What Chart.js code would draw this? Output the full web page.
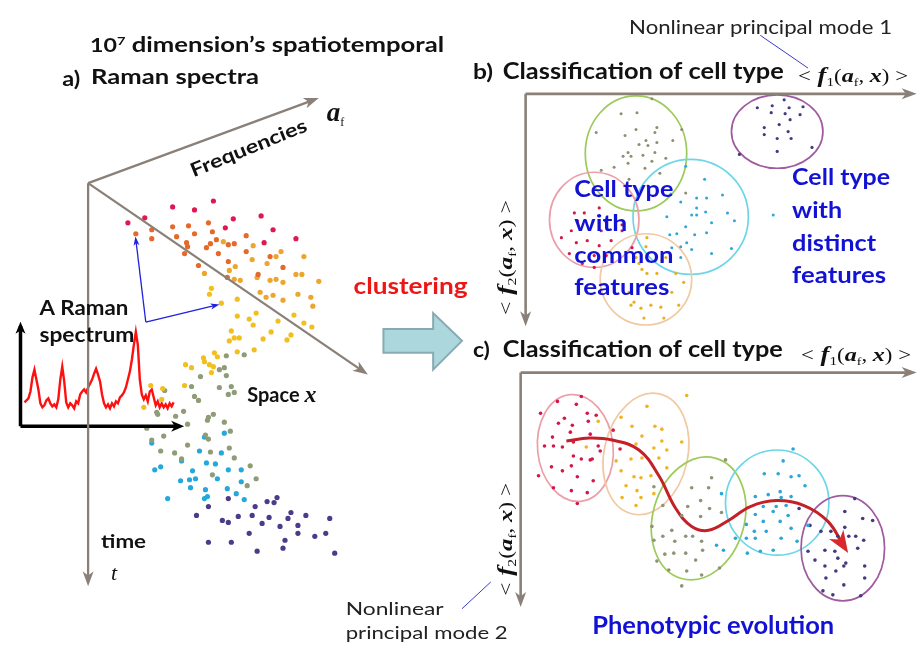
<!DOCTYPE html>
<html><head><meta charset="utf-8">
<script src="https://cdn.jsdelivr.net/npm/chart.js@4"></script>
<style>html,body{margin:0;padding:0;background:#fff}canvas{display:block}</style>
</head><body>
<canvas id="c" width="918" height="651"></canvas>
<script>
// ---------- DATA (point clusters, in the figure's own coordinate space) ----------
const A_red = [[126,222],[143,217],[171,206],[193,209],[212,200],[232,218],[224,227],[260,215],[272,229],[263,242],[295,238]];
const A_orange = [[134,233],[150,229],[150,238],[171,226],[175,236],[187,225],[193,233],[207,222],[211,231],[215,239],[209,243],[205,247],[185,242],[186,246],[183,253],[197,265],[217,253],[227,244],[233,243],[227,261],[245,235],[245,251],[269,256],[282,267],[257,274],[226,277]];
const A_amber = [[222,241],[252,245],[275,256],[280,251],[303,256],[234,266],[228,270],[203,273],[251,259],[266,263],[233,279],[239,280],[256,277],[269,280],[275,279],[282,282],[295,274],[301,274],[318,281],[259,292],[265,297],[272,295],[282,300],[297,294],[310,297],[312,306]];
const A_yellow = [[210,288],[208,294],[236,299],[220,303],[236,316],[255,313],[248,319],[252,325],[277,321],[293,315],[303,323],[311,327],[270,332],[290,335],[286,340],[262,339],[230,331],[228,341],[233,338],[238,338],[236,352],[253,350],[213,353],[216,357],[202,358],[203,362],[208,365],[212,367],[184,365],[190,368],[210,373],[183,386],[161,389],[149,386],[160,400],[142,408]];
const A_olive = [[243,355],[225,356],[218,370],[223,368],[225,376],[199,377],[190,387],[218,388],[230,387],[227,395],[233,393],[193,397],[197,401],[163,391],[155,413],[182,412],[174,417],[207,418],[212,415],[223,423],[156,415],[206,421],[186,425],[229,432],[145,429],[162,437],[207,440],[204,436],[186,446],[159,452],[173,454],[209,453],[228,449],[233,459],[180,460],[249,467],[211,476],[255,480],[246,487],[150,441]];
const A_cyan = [[150,444],[203,438],[223,434],[198,452],[220,454],[180,462],[159,468],[153,471],[191,472],[205,464],[214,465],[227,471],[240,471],[216,480],[179,482],[188,481],[194,480],[189,489],[204,491],[226,490],[240,483],[235,495],[166,500],[203,500],[206,498],[243,501]];
const A_purple = [[227,500],[207,508],[266,503],[273,504],[276,499],[254,508],[195,517],[221,522],[227,524],[237,518],[251,517],[268,519],[261,525],[287,520],[290,514],[305,517],[297,527],[279,528],[329,520],[248,535],[297,535],[314,538],[325,535],[284,542],[207,544],[230,544],[256,553],[282,550],[334,555]];
const A_spectrum = [[22,403],[24,401],[26,399],[28,392],[30,378],[32,370],[34,380],[36,390],[38,404],[40,408],[42,406],[44,401],[46,399],[48,404],[50,407],[52,405],[54,408],[56,400],[58,380],[60,367],[62,382],[64,403],[66,408],[68,404],[70,406],[72,409],[74,402],[76,404],[78,395],[80,392],[82,390],[84,393],[86,388],[88,384],[90,380],[92,374],[94,369],[96,375],[98,382],[100,395],[102,404],[104,408],[106,405],[108,409],[110,404],[112,407],[114,402],[116,404],[118,398],[120,396],[122,393],[124,388],[126,380],[128,372],[130,360],[132,345],[134,332],[136,345],[138,380],[140,395],[142,400],[144,396],[146,402],[148,392],[150,390],[152,398],[154,406],[156,402],[158,408],[160,404],[162,408],[164,405],[166,409],[168,404],[170,407],[172,403]];

const B_green = [[653,97],[622,112],[638,111],[597,131],[626,134],[637,128],[658,126],[656,131],[683,128],[674,139],[647,139],[640,143],[649,144],[658,141],[629,151],[624,155],[632,155],[644,154],[656,151],[667,157],[653,160],[629,162],[646,167],[615,166],[602,169],[661,172],[630,178],[687,192],[649,185]];
const B_cyan = [[706,178],[687,165],[724,194],[698,197],[708,197],[682,201],[672,193],[698,207],[693,214],[698,214],[707,211],[668,216],[687,226],[713,222],[678,233],[696,234],[708,232],[729,212],[736,220],[671,234],[682,246],[693,249],[713,253],[733,248],[688,242],[775,214],[673,247],[682,257]];
const B_pink = [[575,212],[578,220],[562,237],[572,230],[577,242],[588,240],[600,245],[595,255],[607,255],[595,267],[570,253],[583,263],[612,240],[602,230],[623,230],[633,247],[600,207],[585,212],[606,220],[623,224]];
const B_yellow = [[648,237],[647,246],[637,257],[640,263],[648,273],[658,273],[677,273],[685,282],[643,269],[667,257],[630,292],[673,292],[632,305],[642,308],[652,305],[662,307],[680,305],[645,318],[665,318],[635,302],[663,260]];
const B_purple = [[759,106],[774,104],[786,98],[791,106],[805,105],[773,111],[787,112],[802,113],[792,118],[781,123],[766,126],[766,133],[790,130],[779,137],[793,137],[779,150],[814,146],[741,153]];

const C_pink = [[558,402],[582,397],[577,405],[541,414],[565,419],[588,414],[597,416],[559,424],[573,426],[589,422],[571,433],[553,438],[554,447],[545,447],[563,448],[574,443],[591,435],[599,447],[601,452],[574,457],[582,460],[591,461],[593,460],[552,468],[563,472],[572,467],[539,477],[578,478],[594,482],[554,489],[572,492],[588,494],[578,505],[621,450],[614,431]];
const C_yellow = [[622,418],[648,407],[688,396],[633,427],[656,427],[663,430],[643,437],[663,442],[683,443],[637,445],[655,449],[668,451],[599,422],[587,448],[617,462],[632,460],[643,459],[660,459],[622,472],[635,478],[642,479],[652,477],[668,469],[627,487],[638,492],[655,495],[623,499],[642,499],[637,507]];
const C_green = [[727,461],[713,479],[693,489],[710,489],[655,488],[702,502],[689,508],[664,507],[711,510],[683,517],[702,518],[723,514],[673,532],[653,528],[664,538],[676,543],[687,538],[694,538],[703,543],[655,542],[704,552],[666,556],[675,555],[687,555],[697,562],[658,563],[670,572],[688,573],[703,577],[721,570],[683,588]];
const C_cyan = [[723,495],[718,547],[725,552],[749,555],[757,498],[757,516],[748,526],[748,540],[757,540],[737,540],[766,475],[780,475],[793,478],[801,477],[785,462],[795,450],[807,487],[770,496],[782,493],[783,499],[793,498],[788,507],[778,508],[765,508],[775,513],[790,517],[765,523],[782,523],[793,530],[756,533],[768,533],[810,527],[783,540],[799,543],[762,553],[775,552]];
const C_purple = [[857,500],[847,513],[865,520],[875,522],[801,510],[812,527],[823,533],[833,533],[840,538],[847,529],[851,538],[858,538],[860,550],[866,542],[810,553],[827,552],[837,553],[840,560],[848,565],[867,568],[827,568],[838,573],[846,568],[828,580],[846,587],[867,580],[825,593],[835,597],[863,598],[817,562]];
const C_path = [[567,442],[590,439],[613,441],[640,451],[660,477],[677,510],[693,528],[710,532],[730,522],[752,508],[778,502],[806,507],[830,523],[846,548]];

// ---------- LAYOUT ----------
const GRAY = '#8a8078';
const LINES = [
  {pts:[[86,182],[313,98]], col:GRAY, w:2.3, arrow:{len:15,wid:11}},
  {pts:[[86,182],[363,372]], col:GRAY, w:2.3, arrow:{len:15,wid:11}},
  {pts:[[86,182],[86,583]], col:GRAY, w:2.3, arrow:{len:15,wid:11}},
  {pts:[[18,427],[18,326]], col:'#000', w:3.5, arrow:{len:12,wid:10}},
  {pts:[[18,427],[178,427]], col:'#000', w:3.5, arrow:{len:13,wid:11}},
  {pts:[[144,322],[134,239]], col:'#2020dd', w:1.3, arrow:{len:9,wid:6}},
  {pts:[[144,322],[215,305]], col:'#2020dd', w:1.3, arrow:{len:9,wid:6}},
  {pts:[[526,92],[914,92]], col:GRAY, w:2.6, arrow:{len:15,wid:11}},
  {pts:[[526,92],[526,321]], col:GRAY, w:2.6, arrow:{len:15,wid:11}},
  {pts:[[521,373],[914,373]], col:GRAY, w:2.6, arrow:{len:15,wid:11}},
  {pts:[[521,373],[521,604]], col:GRAY, w:2.6, arrow:{len:15,wid:11}},
  {pts:[[762,33],[810,66]], col:'#3a3ad0', w:1},
  {pts:[[491,584],[462,611]], col:'#3a3ad0', w:1}
];
const CLUSTERS = [
  {d:A_red,c:'#e01852',r:2.6},{d:A_orange,c:'#e5692a',r:2.6},{d:A_amber,c:'#eca52e',r:2.6},
  {d:A_yellow,c:'#f2c01e',r:2.6},{d:A_olive,c:'#8f9c78',r:2.6},{d:A_cyan,c:'#25a8dc',r:2.6},{d:A_purple,c:'#4b3b8a',r:2.6},
  {d:B_green,c:'#8e8e70',r:1.5},{d:B_cyan,c:'#2ea8d4',r:1.5},{d:B_pink,c:'#d41848',r:1.6},{d:B_yellow,c:'#e8b020',r:1.6},{d:B_purple,c:'#453a80',r:1.6},
  {d:C_pink,c:'#d41648',r:1.8},{d:C_yellow,c:'#f0b422',r:1.8},{d:C_green,c:'#8e9478',r:1.8},{d:C_cyan,c:'#2ba6d6',r:1.8},{d:C_purple,c:'#453a82',r:1.8}
];
const ELLIPSES = [
  {c:[637,152],r:[51,58],rot:0,col:'#9ccb5a'},
  {c:[692,216],r:[58,58],rot:0,col:'#6cd6e8'},
  {c:[595,219],r:[45,48],rot:0,col:'#eb9fa8'},
  {c:[647,279],r:[46,46],rot:0,col:'#f1c9a2'},
  {c:[779,130],r:[46,37],rot:0,col:'#a05a9e'},
  {c:[576,449],r:[38,54],rot:-0.1,col:'#eb9fa8'},
  {c:[647,455],r:[42,62],rot:0.22,col:'#f1c9a2'},
  {c:[700,520],r:[46,63],rot:0.28,col:'#9ccb5a'},
  {c:[779,504],r:[52,53],rot:0,col:'#6cd6e8'},
  {c:[845,550],r:[42,53],rot:0,col:'#a05a9e'}
];
const BIG_ARROW = [[383,329],[433,329],[433,313],[462,341],[433,370],[433,353],[383,353]];

const toXY = a => a.map(p => ({x:p[0], y:p[1]}));
const datasets = [];
LINES.forEach(l => datasets.push({data:toXY(l.pts), showLine:true, borderColor:l.col, backgroundColor:l.col, borderWidth:l.w, pointRadius:0, tension:0, arrow:l.arrow}));
CLUSTERS.forEach(k => datasets.push({data:toXY(k.d), showLine:false, backgroundColor:k.c, borderWidth:0, pointRadius:k.r, pointHoverRadius:k.r}));
datasets.push({data:toXY(A_spectrum), showLine:true, borderColor:'#ff1010', borderWidth:2.4, pointRadius:0, tension:0});
datasets.push({data:toXY(C_path), showLine:true, borderColor:'#c42028', backgroundColor:'#d82a2a', borderWidth:3, pointRadius:0, tension:0.4, arrow:{len:22,wid:17,ext:8}});

const SANS = 'Lato, "Open Sans", sans-serif';
const SERIF = '"Liberation Serif", serif';
const B = s => 'bold ' + s + 'px ' + SANS;
const R = s => s + 'px ' + SANS;
const BLUE = '#1212d4';
const fRuns = n => [
  {t:'<', f:'18px '+SERIF},{t:' f', f:'italic bold 21px '+SERIF},{t:n, f:'12px '+SERIF, dy:4},
  {t:'(', f:'18px '+SERIF},{t:'a', f:'italic bold 19px '+SERIF},{t:'f', f:'11px '+SERIF, dy:4},
  {t:', ', f:'18px '+SERIF},{t:'x', f:'italic bold 19px '+SERIF},{t:')', f:'18px '+SERIF},{t:' >', f:'18px '+SERIF}];
const TEXTS = [
  {x:88,y:50,w:354,r:[{t:'10',f:B(19)},{t:'7',f:B(12),dy:-7},{t:' dimension\u2019s spatiotemporal',f:B(21)}]},
  {x:60,y:84,w:18,r:[{t:'a)',f:B(20)}]},
  {x:89,y:82,w:168,r:[{t:'Raman spectra',f:B(21)}]},
  {x:192,y:176,w:124,rot:-0.385,r:[{t:'Frequencies',f:B(19)}]},
  {x:326,y:119,r:[{t:'a',f:'italic bold 27px '+SERIF},{t:'f',f:'12px '+SERIF,dy:5}]},
  {x:37,y:315,w:89,r:[{t:'A Raman',f:B(20)}]},
  {x:37,y:342,w:95,r:[{t:'spectrum',f:B(20)}]},
  {x:353,y:294,w:114,r:[{t:'clustering',f:B(23),c:'#ee1515'}]},
  {x:246,y:403,r:[{t:'Space ',f:B(20)},{t:'x',f:'italic bold 24px '+SERIF}]},
  {x:99,y:550,w:45,r:[{t:'time',f:B(19)}]},
  {x:109,y:582,r:[{t:'t',f:'italic 22px '+SERIF}]},
  {x:630,y:32,w:263,r:[{t:'Nonlinear principal mode 1',f:R(19),c:'#222'}]},
  {x:473,y:77,w:20,r:[{t:'b)',f:B(21)}]},
  {x:503,y:77,w:281,r:[{t:'Classification of cell type',f:B(22)}]},
  {x:800,y:80,w:110,r:fRuns('1')},
  {x:473,y:357,w:17,r:[{t:'c)',f:B(21)}]},
  {x:503,y:357,w:280,r:[{t:'Classification of cell type',f:B(22)}]},
  {x:803,y:361,w:110,r:fRuns('1')},
  {x:512,y:315,w:115,rot:-Math.PI/2,r:fRuns('2')},
  {x:512,y:598,w:113,rot:-Math.PI/2,r:fRuns('2')},
  {x:575,y:196,w:99,r:[{t:'Cell type',f:B(23),c:BLUE}]},
  {x:575,y:230,w:53,r:[{t:'with',f:B(23),c:BLUE}]},
  {x:575,y:263,w:99,r:[{t:'common',f:B(23),c:BLUE}]},
  {x:575,y:295,w:95,r:[{t:'features',f:B(23),c:BLUE}]},
  {x:794,y:184,w:98,r:[{t:'Cell type',f:B(23),c:BLUE}]},
  {x:794,y:217,w:50,r:[{t:'with',f:B(23),c:BLUE}]},
  {x:794,y:250,w:84,r:[{t:'distinct',f:B(23),c:BLUE}]},
  {x:794,y:283,w:94,r:[{t:'features',f:B(23),c:BLUE}]},
  {x:593,y:636,w:242,r:[{t:'Phenotypic evolution',f:B(24),c:BLUE}]},
  {x:345,y:617,w:98,r:[{t:'Nonlinear',f:R(18),c:'#222'}]},
  {x:345,y:642,w:162,r:[{t:'principal mode 2',f:R(18),c:'#222'}]}
];

function drawRuns(ctx, t, X, Y) {
  ctx.save();
  ctx.translate(X(t.x), Y(t.y));
  if (t.rot) ctx.rotate(t.rot);
  let total = 0;
  t.r.forEach(r => { ctx.font = r.f; total += ctx.measureText(r.t).width; });
  const s = t.w ? t.w / total : 1;
  ctx.scale(s, 1);
  let cx = 0;
  ctx.textBaseline = 'alphabetic';
  t.r.forEach(r => { ctx.font = r.f; ctx.fillStyle = r.c || '#111'; ctx.fillText(r.t, cx, r.dy || 0); cx += ctx.measureText(r.t).width; });
  ctx.restore();
}

const artPlugin = {
  id: 'art',
  beforeDatasetsDraw(chart) {
    const ctx = chart.ctx, X = v => chart.scales.x.getPixelForValue(v), Y = v => chart.scales.y.getPixelForValue(v);
    ctx.save();
    ctx.beginPath();
    BIG_ARROW.forEach((p, i) => i ? ctx.lineTo(X(p[0]), Y(p[1])) : ctx.moveTo(X(p[0]), Y(p[1])));
    ctx.closePath();
    ctx.fillStyle = '#abd7dd'; ctx.fill();
    ctx.strokeStyle = '#88aab2'; ctx.lineWidth = 2; ctx.stroke();
    ELLIPSES.forEach(e => {
      const cx = X(e.c[0]), cy = Y(e.c[1]);
      const rx = Math.abs(X(e.c[0] + e.r[0]) - cx), ry = Math.abs(Y(e.c[1] + e.r[1]) - cy);
      ctx.beginPath(); ctx.ellipse(cx, cy, rx, ry, e.rot, 0, Math.PI * 2);
      ctx.strokeStyle = e.col; ctx.lineWidth = 1.7; ctx.stroke();
    });
    ctx.restore();
  },
  afterDatasetsDraw(chart) {
    const ctx = chart.ctx, X = v => chart.scales.x.getPixelForValue(v), Y = v => chart.scales.y.getPixelForValue(v);
    chart.data.datasets.forEach(ds => {
      if (!ds.arrow) return;
      const n = ds.data.length, a = ds.data[n - 2], b = ds.data[n - 1];
      const x1 = X(a.x), y1 = Y(a.y), x2 = X(b.x), y2 = Y(b.y);
      const ang = Math.atan2(y2 - y1, x2 - x1);
      const L = ds.arrow.len, W = ds.arrow.wid, ext = ds.arrow.ext != null ? ds.arrow.ext : L * 0.35;
      ctx.save();
      ctx.translate(x2 + Math.cos(ang) * ext, y2 + Math.sin(ang) * ext);
      ctx.rotate(ang);
      ctx.beginPath();
      ctx.moveTo(0, 0); ctx.lineTo(-L, -W / 2); ctx.lineTo(-L * 0.72, 0); ctx.lineTo(-L, W / 2); ctx.closePath();
      ctx.fillStyle = ds.backgroundColor || ds.borderColor; ctx.fill();
      ctx.restore();
    });
    TEXTS.forEach(t => drawRuns(ctx, t, X, Y));
  }
};

new Chart(document.getElementById('c'), {
  type: 'scatter',
  data: { datasets },
  options: {
    responsive: false, animation: false, devicePixelRatio: 1,
    layout: { padding: 0 },
    plugins: { legend: { display: false }, tooltip: { enabled: false } },
    events: [],
    scales: {
      x: { type: 'linear', min: 0, max: 918, display: false },
      y: { type: 'linear', min: 0, max: 651, reverse: true, display: false }
    }
  },
  plugins: [artPlugin]
});
</script>
</body></html>
